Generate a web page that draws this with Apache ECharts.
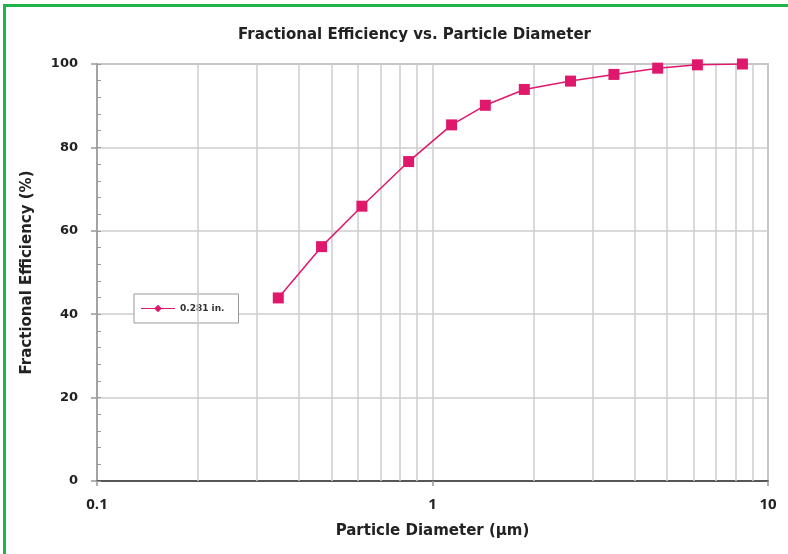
<!DOCTYPE html>
<html>
<head>
<meta charset="utf-8">
<script src="https://cdn.jsdelivr.net/npm/echarts@6/dist/echarts.min.js"></script>
<style>
  html, body { margin: 0; padding: 0; background: #fff; }
  #wrap { position: relative; width: 788px; height: 554px; overflow: hidden; }
  #main { position: absolute; left: 0; top: 0; width: 788px; height: 554px; }
  #frame { position: absolute; left: 3px; top: 4px; width: 900px; height: 700px;
           border-top: 3px solid #22b14c; border-left: 3px solid #22b14c; pointer-events: none; }
</style>
</head>
<body>
<div id="wrap">
  <div id="main"></div>
  <div id="frame"></div>
</div>
<script>
// particle diameter (um) and fractional efficiency (%)
const diameters = [0.347, 0.467, 0.616, 0.849, 1.14, 1.437, 1.878, 2.578, 3.474, 4.69, 6.16, 8.39];
const efficiency = [43.9, 56.2, 65.9, 76.6, 85.4, 90.1, 93.9, 95.9, 97.5, 99.0, 99.8, 100.0];
const seriesName = '0.281 in.';
// minor log gridlines inside each decade
const minorGrid = [0.2, 0.3, 0.4, 0.5, 0.6, 0.7, 0.8, 0.9, 2, 3, 4, 5, 6, 7, 8, 9];

const font = '"DejaVu Sans", "Open Sans", sans-serif';
const xFont = '"Open Sans", "DejaVu Sans", sans-serif';
const magenta = '#e0186c';

const chartDom = document.getElementById('main');
const myChart = echarts.init(chartDom);

const option = {
    animation: false,
    textStyle: { fontFamily: font },
    title: {
        text: 'Fractional Efficiency vs. Particle Diameter',
        left: 233,
        top: 23,
        textStyle: { fontSize: 15, fontWeight: 'bold', color: '#222', fontFamily: font }
    },
    legend: {
        data: [{
            name: seriesName,
            icon: 'path://M0,4.5h40v1h-40z M20,0.5L24.5,5L20,9.5L15.5,5Z'
        }],
        left: 134,
        top: 294,
        padding: [10, 14, 10, 7],
        itemWidth: 34,
        itemHeight: 9,
        itemGap: 6,
        borderColor: '#999',
        borderWidth: 1,
        backgroundColor: '#fff',
        textStyle: { fontSize: 9, fontWeight: 'bold', color: '#333', fontFamily: font }
    },
    grid: {
        left: 97,
        right: 20,
        top: 64,
        bottom: 73,
        show: true,
        borderColor: '#999',
        borderWidth: 1.5
    },
    xAxis: {
        type: 'log',
        logBase: 10,
        min: 0.1,
        max: 10,
        name: 'Particle Diameter (µm)',
        nameLocation: 'middle',
        nameGap: 43,
        nameTextStyle: { fontSize: 15, fontWeight: 'bold', color: '#222', fontFamily: font },
        axisLine: { lineStyle: { color: '#333', width: 1.5 } },
        axisTick: { show: true, length: 5, lineStyle: { color: '#999', width: 1.5 } },
        axisLabel: {
            fontSize: 15, fontWeight: 'bold', color: '#222', margin: 16, fontFamily: xFont,
            formatter: v => String(Number(v.toPrecision(6)))
        },
        splitLine: { show: true, lineStyle: { color: '#ccc', width: 1.5 } },
        minorTick: { show: false },
        minorSplitLine: { show: false }
    },
    yAxis: [{
        type: 'value',
        position: 'left',
        min: 0,
        max: 100,
        interval: 20,
        name: 'Fractional Efficiency (%)',
        nameLocation: 'middle',
        nameGap: 62,
        nameTextStyle: { fontSize: 15, fontWeight: 'bold', color: '#222', fontFamily: font },
        axisLine: { show: true, lineStyle: { color: '#999', width: 1.5 } },
        axisTick: { show: true, length: 6, lineStyle: { color: '#999', width: 1.5 } },
        axisLabel: { fontSize: 13, fontWeight: 'bold', color: '#222', margin: 19 },
        splitLine: { show: true, lineStyle: { color: '#ccc', width: 1.5 } }
    }, {
        // inner minor ticks every 4 %
        type: 'value',
        position: 'left',
        min: 0,
        max: 100,
        interval: 4,
        axisLine: { show: false },
        axisTick: { show: true, inside: true, length: 4, lineStyle: { color: '#999', width: 1 } },
        axisLabel: { show: false },
        splitLine: { show: false }
    }],
    series: [{
        name: 'minor grid',
        type: 'line',
        data: [],
        z: 1,
        silent: true,
        markLine: {
            silent: true,
            symbol: ['none', 'none'],
            label: { show: false },
            lineStyle: { color: '#ccc', width: 1.5, type: 'solid' },
            data: minorGrid.map(v => ({ xAxis: v }))
        }
    }, {
        name: seriesName,
        type: 'line',
        z: 5,
        data: diameters.map((d, i) => [d, efficiency[i]]),
        symbol: 'rect',
        symbolSize: 11,
        itemStyle: { color: magenta },
        lineStyle: { color: magenta, width: 1.5 }
    }]
};

option && myChart.setOption(option);
</script>
</body>
</html>
